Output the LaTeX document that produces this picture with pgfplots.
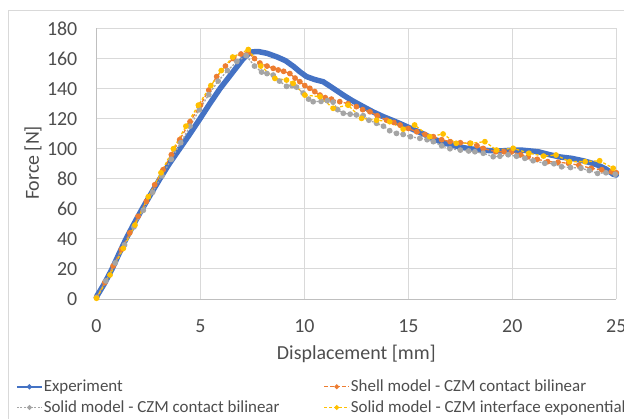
\documentclass[border=0pt]{standalone}
\usepackage{fontspec}
\setmainfont{Carlito}
\usepackage{pgfplots}
\pgfplotsset{compat=1.18}
\definecolor{cBlue}{HTML}{4472C4}
\definecolor{cOrange}{HTML}{ED7D31}
\definecolor{cGray}{HTML}{A5A5A5}
\definecolor{cYellow}{HTML}{FFC000}
\definecolor{cGrid}{HTML}{D9D9D9}
\definecolor{cAxis}{HTML}{BFBFBF}
\definecolor{cText}{HTML}{4D4D4D}
\begin{document}
\begin{tikzpicture}
\useasboundingbox (0,0) rectangle (624bp,419bp);
\draw[cGrid, line width=1bp] (8.3bp,-50bp) -- (8.3bp,408bp) -- (700bp,408bp);
\begin{axis}[
  at={(96.5bp,120bp)}, anchor=south west,
  scale only axis, width=519.8bp, height=270.5bp,
  xmin=0, xmax=25, ymin=0, ymax=180,
  xtick={0,5,...,25}, ytick={0,20,...,180},
  grid=major, major grid style={cGrid, line width=1bp},
  axis x line*=bottom, axis y line*=left,
  axis line style={cAxis, line width=1bp, -},
  major tick length=0pt,
  clip=false,
  /pgf/number format/assume math mode=true,
  ticklabel style={font=\fontsize{20}{24}\selectfont, text=cText},
  xticklabel style={anchor=base, inner sep=0pt, yshift=-33bp},
  yticklabel style={anchor=east, inner sep=0pt, xshift=-19bp},
  xlabel={Displacement [mm]}, ylabel={Force [N]},
  label style={font=\fontsize{20}{24}\selectfont, text=cText},
  xlabel style={at={(axis description cs:0.5,-0.2255)}, anchor=base, inner sep=0pt},
  ylabel style={at={(axis description cs:-0.1222,0.503)}, anchor=center, inner sep=0pt},
  legend columns=2,
  legend cell align=left,
  legend style={draw=none, fill=none, at={(axis description cs:-0.1549,-0.2957)}, anchor=north west,
    font=\fontsize{17}{20}\selectfont, text=cText, inner sep=0pt, row sep=5.5bp,
    nodes={inner sep=1bp},
    /tikz/every even column/.append style={column sep=43bp}},
  legend image code/.code={\draw[mark repeat=2,mark phase=2,#1, mark size=1.7bp] plot coordinates {(0bp,0bp) (12.5bp,0bp) (25bp,0bp)};},
]
% Experiment
\addplot[cBlue, line width=5.5bp, line join=round, line cap=round, forget plot] coordinates {
(0,1.5)(0.37,10)(0.75,20)(1.08,30)(1.42,40)(1.8,50)(2.2,60)(2.62,70)(3.05,80)(3.5,90)(4.0,100)(4.5,110)
(4.98,120)(5.45,130)(5.94,140)(6.5,150)(7.06,160)(7.3,163)(7.5,164.5)(7.8,164.6)(8.2,163.5)(8.7,161)
(9.1,158.5)(9.5,154.5)(9.8,151)(10.1,148)(10.5,146)(10.9,144.6)(11.3,141)(11.87,135.7)
(12.3,132)(12.83,128)(13.3,124.5)(13.8,121.3)(14.3,118.5)(14.75,115.8)(15.2,113)(15.7,110)(16.2,106.5)
(16.7,104)(17.2,102)(17.8,100.3)(18.5,99)(19.4,98.5)(19.96,99)(20.5,99)(21.24,98)(21.8,96)(22.3,94.5)
(22.85,93.6)(23.4,92)(23.8,90.5)(24.12,89)(24.5,86.5)(24.85,83)(25,82.5)
};
\addlegendimage{cBlue, line width=1.6bp, mark=*, mark size=1.7bp}
\addlegendentry{Experiment}
% Shell model
\addplot[cOrange, line width=1.3bp, dash pattern=on 4bp off 2bp, mark=*, mark size=2.2bp,
  mark options={solid, fill=cOrange, draw=cOrange}] coordinates {
(0,1)(0.4,11)(0.8,22)(1.2,33)(1.6,44)(2.0,55)(2.4,65)(2.8,76)(3.2,86)(3.6,96)(4.0,106)(4.5,118)
(5.0,129)(5.4,139)(5.78,148)(6.2,155)(6.58,160)(6.95,163)(7.3,164)(7.6,160)(7.86,157)(8.2,155)
(8.5,153.5)(8.74,152.4)(9.0,151.5)(9.3,150)(9.55,147)(9.78,144.6)(10.02,142)(10.26,140.2)(10.5,138)
(10.75,135.7)(11.0,134)(11.3,133)(11.7,131.3)(12.1,130)(12.5,128)(12.8,126)(13.15,124.6)(13.5,122)
(13.95,119)(14.3,117.5)(14.6,115.8)(15.0,113.5)(15.4,111.3)(15.8,109.5)(16.2,108)(16.6,106)(17.0,104.7)
(17.5,104)(17.96,103.6)(18.3,102)(18.6,100.2)(19.2,98)(19.6,98)(19.96,97.9)(20.4,96)(20.76,94.7)
(21.2,93)(21.7,91.4)(22.2,91)(22.7,90.3)(23.2,89)(23.8,87)(24.3,86)(24.77,84.7)(25.0,84)
};
\addlegendentry{Shell model - CZM contact bilinear}
% Solid model bilinear
\addplot[cGray, line width=1.3bp, dash pattern=on 2bp off 1.5bp, mark=*, mark size=2.2bp,
  mark options={solid, fill=cGray, draw=cGray}] coordinates {
(0,1)(0.45,12)(0.9,24)(1.35,36)(1.8,48)(2.25,59)(2.7,71)(3.15,82)(3.6,93)(4.05,104)(4.5,115)(4.95,126)
(5.4,136)(5.85,145)(6.3,152)(6.75,158)(7.2,162)(7.6,155)(7.94,151)(8.2,150)(8.5,149)(8.8,145)(9.14,141.5)
(9.4,142)(9.62,141)(9.94,137)(10.2,133)(10.42,131.3)(10.8,131.5)(11.1,132)(11.38,131)(11.6,126)
(11.87,123.6)(12.2,123)(12.5,122.5)(12.83,122)(13.1,119)(13.47,116.9)(13.8,115)(14.1,112)(14.43,110.2)
(14.75,109.5)(15.1,108)(15.55,106.9)(15.9,106)(16.2,104.7)(16.6,102)(17.0,100)(17.5,99.1)(17.9,98.5)
(18.2,98)(18.6,97)(19.08,94.7)(19.4,95)(19.8,96)(20.2,95)(20.6,93.6)(21.0,92)(21.56,90.3)(22.0,90)
(22.37,88)(22.8,87.5)(23.3,87)(23.7,85.5)(24.1,83.6)(24.5,84)(24.95,83)
};
\addlegendentry{Solid model - CZM contact bilinear}
% Solid model exponential
\addplot[cYellow, line width=1.3bp, dash pattern=on 3bp off 2bp, mark=*, mark size=2.2bp,
  mark options={solid, fill=cYellow, draw=cYellow}] coordinates {
(0,0.5)(0.65,16)(1.29,33.7)(1.85,49.2)(2.49,68)(3.1,84)(3.7,100)(4.3,115)(4.9,129)(5.5,142)(6.0,152)
(6.55,161)(7.3,166)(7.9,155)(8.58,146.8)(9.14,145.7)(9.46,143.5)(10.02,135.7)(10.75,134.6)(11.38,126.9)
(12.1,129)(12.75,120.2)(13.47,119)(14.1,118)(14.75,113)(15.3,115.8)(16.03,108)(16.67,109.8)(17.3,103.6)
(18.0,103.6)(18.68,104.7)(19.24,99.1)(20.04,100.3)(20.8,97)(21.5,95.1)(22.1,95.8)(22.75,91.4)(23.5,91.4)
(24.2,92)(24.85,87)
};
\addlegendentry{Solid model - CZM interface exponential}
\end{axis}
\end{tikzpicture}
\end{document}
